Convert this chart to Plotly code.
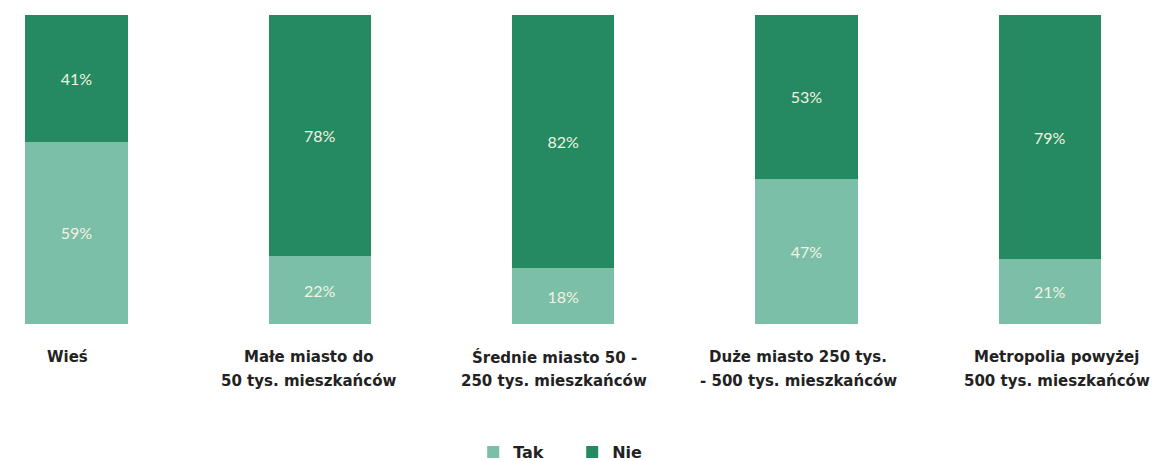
import plotly.graph_objects as go

# Odpowiedzi według wielkości miejsca zamieszkania (w %)
categories = [
    "Wieś",
    "Małe miasto do<br>50 tys. mieszkańców",
    "Średnie miasto 50 -<br>250 tys. mieszkańców",
    "Duże miasto 250 tys.<br>- 500 tys. mieszkańców",
    "Metropolia powyżej<br>500 tys. mieszkańców",
]
tak = [59, 22, 18, 47, 21]
nie = [41, 78, 82, 53, 79]

COLOR_TAK = "#7bbfa8"
COLOR_NIE = "#258a61"
LABEL_COLOR = "#f4f2e2"
FONT = "Lato, 'Noto Sans', sans-serif"
BOLD_FONT = "'DejaVu Sans', sans-serif"

x = list(range(len(categories)))

fig = go.Figure()
for name, vals, color in (("Tak", tak, COLOR_TAK), ("Nie", nie, COLOR_NIE)):
    fig.add_bar(
        x=x, y=vals, name=name, marker=dict(color=color, line=dict(width=0)),
        text=[f"{v}%" for v in vals], textposition="inside", insidetextanchor="middle",
        textfont=dict(color=LABEL_COLOR, size=16, family=FONT), width=0.42,
    )

# Podpisy kategorii pod słupkami (każdy wiersz osobno, dla większego odstępu)
shifts = [-9, -11, -9, -8, 7]
for i, (cat, dx) in enumerate(zip(categories, shifts)):
    for j, line in enumerate(cat.split("<br>")):
        fig.add_annotation(
            x=i, y=0, xref="x", yref="paper", yanchor="middle",
            yshift=-33 - 24 * j, xshift=dx,
            text=f"<b>{line}</b>", showarrow=False, align="center",
            font=dict(family=BOLD_FONT, size=15, color="#222222"),
        )

fig.update_layout(
    barmode="stack",
    width=1152, height=461,
    margin=dict(l=0, r=0, t=15, b=137, autoexpand=False),
    paper_bgcolor="white", plot_bgcolor="white",
    showlegend=True,
    legend=dict(
        orientation="h", x=0.4967, xanchor="center",
        yref="container", y=0.0195, yanchor="middle",
        font=dict(family=BOLD_FONT, size=16, color="#222222", weight="bold"),
        entrywidth=54, entrywidthmode="pixels", traceorder="normal",
    ),
)
fig.update_xaxes(range=[-0.3144, 4.42], showticklabels=False, showgrid=False,
                 zeroline=False, showline=False, fixedrange=True)
fig.update_yaxes(range=[0, 100], visible=False, fixedrange=True)

fig.write_html("out.html")
